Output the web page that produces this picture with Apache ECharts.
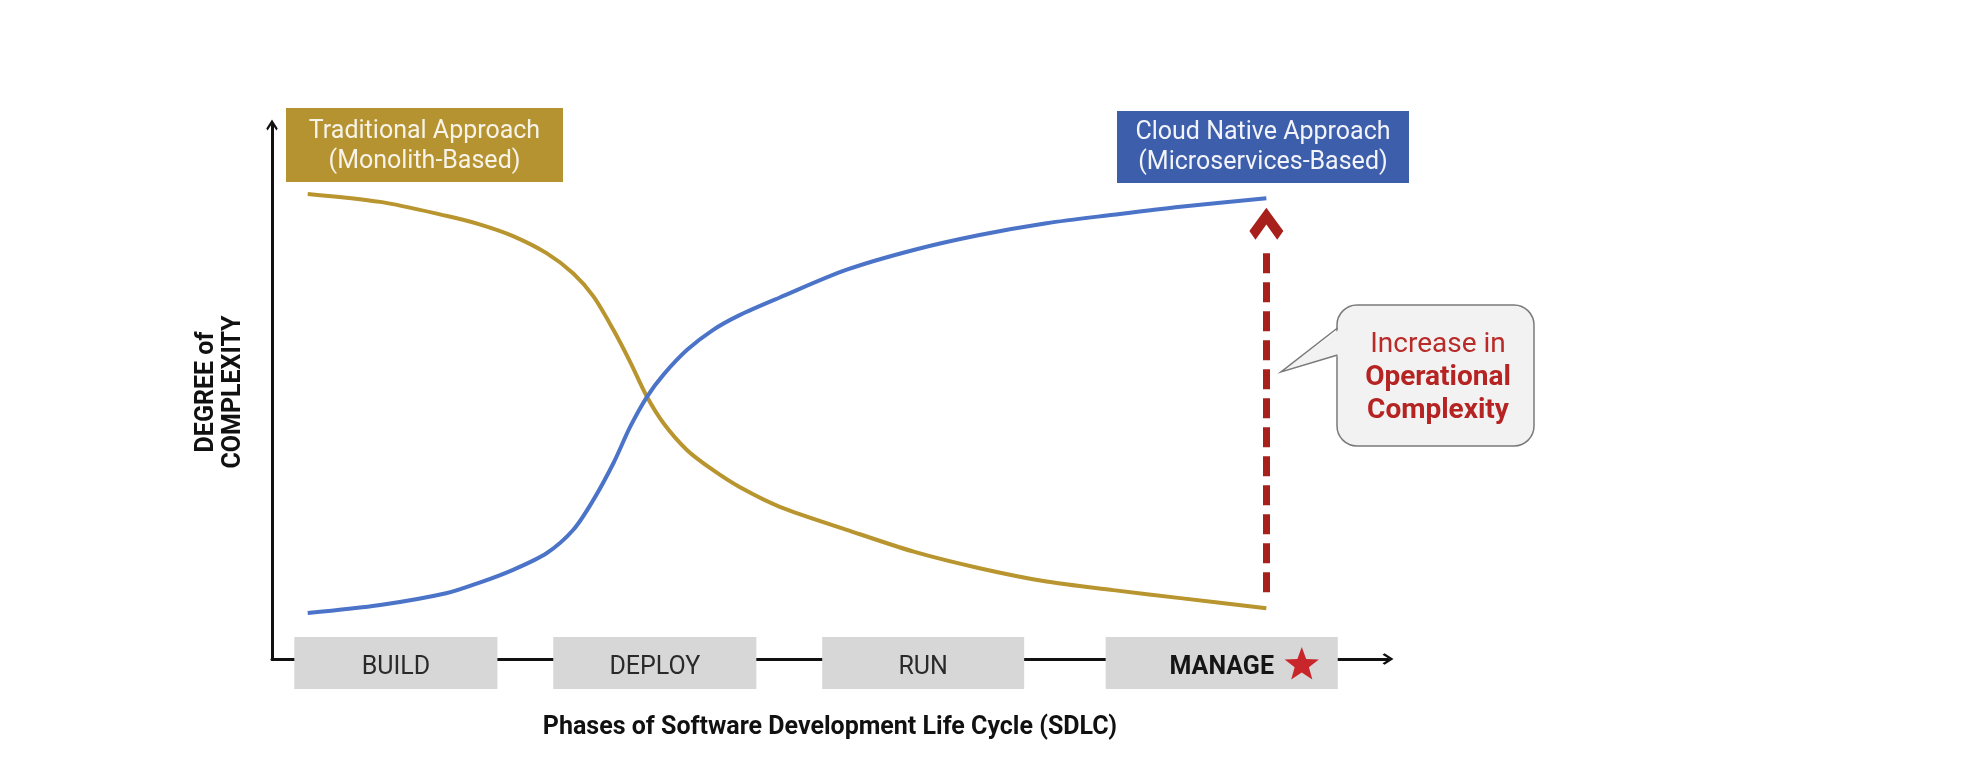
<!DOCTYPE html>
<html>
<head>
<meta charset="utf-8">
<script src="https://cdn.jsdelivr.net/npm/echarts@6/dist/echarts.min.js"></script>
<style>html,body{margin:0;padding:0;background:#fff}#c{width:1966px;height:778px}</style>
</head>
<body>
<div id="c"></div>
<script>
// ---- data ----
const phaseX = [3.2, 9.7, 15.6, 18.6, 21.6, 24.6, 27.0, 28.8, 30.6, 32.1, 33.6, 35.1, 37.2, 39.5, 41.9, 45.5, 51.5, 57.5, 63.4, 69.4, 75.4, 81.4, 89.1];
const traditional = [87.1, 85.6, 83.0, 81.4, 79.2, 76.0, 72.2, 67.9, 61.6, 55.6, 49.1, 44.1, 39.1, 35.4, 32.2, 28.5, 24.2, 20.1, 17.0, 14.5, 12.9, 11.4, 9.5];
const cloudNative = [8.6, 10.1, 12.3, 14.3, 16.7, 19.8, 24.2, 29.8, 36.7, 43.5, 49.1, 53.3, 57.9, 61.6, 64.4, 67.7, 72.9, 76.6, 79.4, 81.6, 83.2, 84.7, 86.3];
const phases = ['BUILD', 'DEPLOY', 'RUN', 'MANAGE'];
const phaseStart = [2.0, 25.2, 49.3, 74.7];
const phaseEnd = [20.2, 43.4, 67.4, 95.5];
const arrowX = 89.1;
const arrowFrom = 12.5;
const arrowTo = 77.2;
const arrowHead = 81.5;

// ---- chart ----
const FONT = 'Roboto';
const chevron = 'path://M50,0 L100,78 L88,96 L50,36 L12,96 L0,78 Z';
const headPath = 'path://M50,0 L100,70 L82,96 L50,50 L18,96 L0,70 Z';

function starPoints(cx, cy, R, r) {
  const pts = [];
  for (let k = 0; k < 10; k++) {
    const rad = k % 2 === 0 ? R : r;
    const a = -Math.PI / 2 + k * Math.PI / 5;
    pts.push([cx + rad * Math.cos(a), cy + rad * Math.sin(a)]);
  }
  return pts;
}

const chart = echarts.init(document.getElementById('c'), null, {renderer: 'canvas'});
chart.setOption({
  animation: false,
  backgroundColor: '#ffffff',
  grid: {left: 272, right: 578, top: 125, bottom: 119, containLabel: false},
  xAxis: {
    type: 'value', min: 0, max: 100,
    splitLine: {show: false}, axisTick: {show: false}, axisLabel: {show: false},
    axisLine: {show: true, lineStyle: {color: '#111', width: 3}, symbol: ['none', chevron], symbolSize: [17, 11]},
    name: 'Phases of Software Development Life Cycle (SDLC)',
    nameLocation: 'middle', nameGap: 56,
    nameTextStyle: {fontFamily: FONT, fontWeight: 'bold', fontSize: 25, color: '#111'}
  },
  yAxis: {
    type: 'value', min: 0, max: 100,
    splitLine: {show: false}, axisTick: {show: false}, axisLabel: {show: false},
    axisLine: {show: true, lineStyle: {color: '#111', width: 3}, symbol: ['none', chevron], symbolSize: [17, 11]},
    name: 'DEGREE of\nCOMPLEXITY',
    nameLocation: 'middle', nameRotate: 90, nameGap: 25,
    nameTextStyle: {fontFamily: FONT, fontWeight: 'bold', fontSize: 25, lineHeight: 27, color: '#111'}
  },
  series: [
    {
      type: 'custom',
      z: 5,
      clip: false,
      data: phases.map((p, i) => [phaseStart[i], phaseEnd[i]]),
      renderItem: function (params, api) {
        const i = params.dataIndex;
        const p0 = api.coord([api.value(0), 0]);
        const p1 = api.coord([api.value(1), 0]);
        const cx = (p0[0] + p1[0]) / 2;
        const isManage = phases[i] === 'MANAGE';
        const children = [
          {type: 'rect', shape: {x: p0[0], y: p0[1] - 22, width: p1[0] - p0[0], height: 52}, style: {fill: '#D7D7D7'}},
          {type: 'text', style: {text: phases[i], x: cx, y: p0[1] + 9, align: 'center', verticalAlign: 'middle',
            font: (isManage ? 'bold ' : '') + '25px ' + FONT, fill: isManage ? '#151515' : '#2a2a2a'}}
        ];
        if (isManage) {
          children.push({type: 'polygon', shape: {points: starPoints(p1[0] - 36, p0[1] + 6, 18, 7.5)}, style: {fill: '#C8262B'}});
        }
        return {type: 'group', children: children};
      }
    },
    {
      name: 'Traditional Approach',
      type: 'line',
      z: 3,
      data: phaseX.map((x, i) => [x, traditional[i]]),
      smooth: 0.3,
      showSymbol: false,
      lineStyle: {color: '#B8952E', width: 4}
    },
    {
      name: 'Cloud Native Approach',
      type: 'line',
      z: 4,
      data: phaseX.map((x, i) => [x, cloudNative[i]]),
      smooth: 0.3,
      showSymbol: false,
      lineStyle: {color: '#4B73C8', width: 4},
      markLine: {
        silent: true,
        symbol: ['none', 'none'],
        label: {show: false},
        lineStyle: {color: '#A8201C', width: 7, type: [20, 9]},
        data: [[{coord: [arrowX, arrowFrom]}, {coord: [arrowX, arrowTo]}]]
      },
      markPoint: {
        silent: true,
        symbol: headPath,
        symbolSize: [34, 32],
        itemStyle: {color: '#A8201C'},
        label: {show: false},
        data: [{coord: [arrowX, arrowHead]}]
      }
    }
  ],
  graphic: [
    {type: 'rect', shape: {x: 286, y: 108, width: 277, height: 74}, style: {fill: '#B69331'}, z: 10},
    {type: 'text', z: 11, style: {text: 'Traditional Approach\n(Monolith-Based)', x: 424.5, y: 147, align: 'center', verticalAlign: 'middle',
      font: '25px ' + FONT, lineHeight: 30, fill: '#F7F3E8'}},
    {type: 'rect', shape: {x: 1117, y: 111, width: 292, height: 72}, style: {fill: '#3D5EAA'}, z: 10},
    {type: 'text', z: 11, style: {text: 'Cloud Native Approach\n(Microservices-Based)', x: 1263, y: 148, align: 'center', verticalAlign: 'middle',
      font: '25px ' + FONT, lineHeight: 30, fill: '#F2F4FA'}},
    {type: 'rect', z: 10, shape: {x: 1337, y: 305, width: 197, height: 141, r: 20}, style: {fill: '#F2F2F2', stroke: '#7A7A7A', lineWidth: 1.5}},
    {type: 'polygon', z: 11, shape: {points: [[1341, 328], [1281, 372], [1341, 355]]}, style: {fill: '#F2F2F2'}},
    {type: 'polyline', z: 12, shape: {points: [[1337.5, 328], [1281, 372], [1337.5, 355]]}, style: {stroke: '#7A7A7A', lineWidth: 1.5, fill: null}},
    {type: 'text', z: 13, style: {
      text: '{a|Increase in}\n{b|Operational}\n{b|Complexity}',
      x: 1438, y: 378, align: 'center', verticalAlign: 'middle',
      rich: {
        a: {fontFamily: FONT, fontSize: 28, lineHeight: 33, fill: '#B92B28', align: 'center'},
        b: {fontFamily: FONT, fontSize: 28, fontWeight: 'bold', lineHeight: 33, fill: '#B52422', align: 'center'}
      }
    }}
  ]
});
</script>
</body>
</html>
